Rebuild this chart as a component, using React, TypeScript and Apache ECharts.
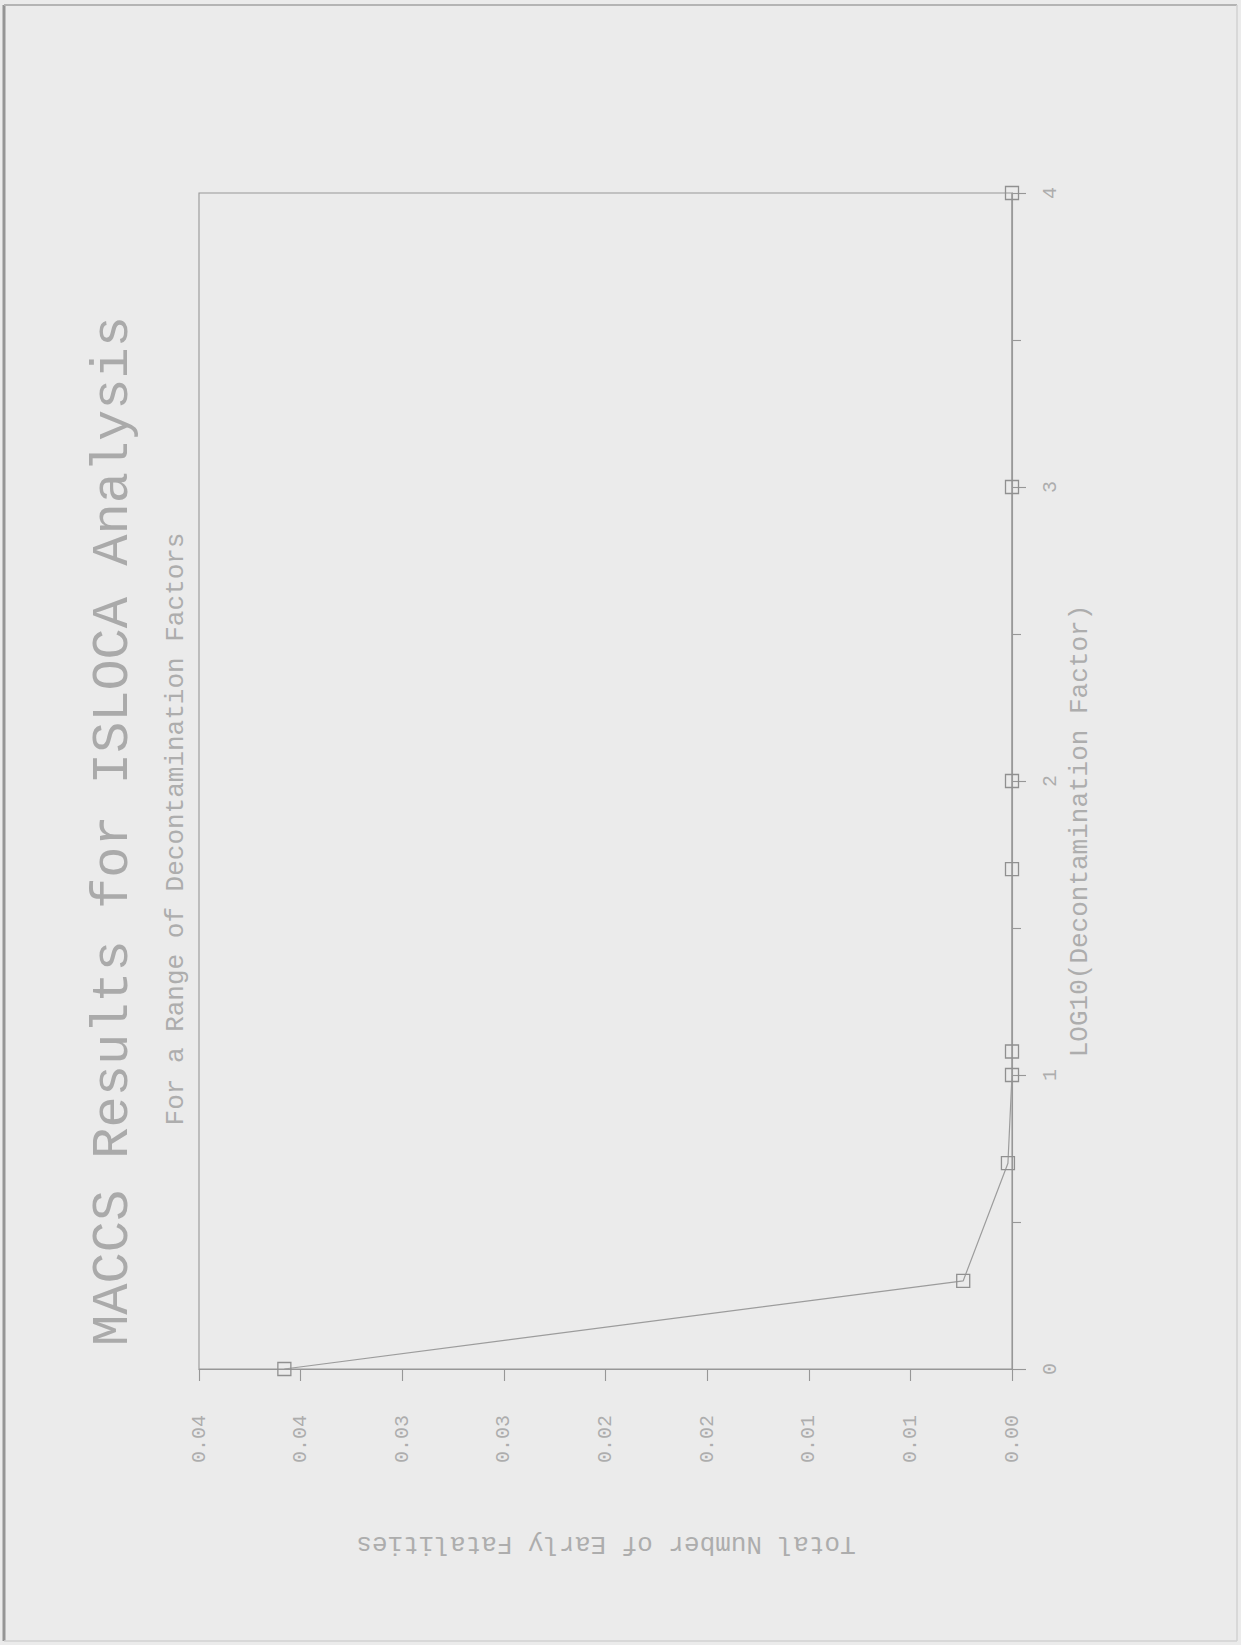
import React, { useEffect, useRef } from "react";
import * as echarts from "echarts";

// Data read from the (rotated) reference chart
const logDecontaminationFactor = [0, 0.3, 0.7, 1.0, 1.08, 1.7, 2, 3, 4];
const earlyFatalities = [0.0358, 0.0024, 0.0002, 0, 0, 0, 0, 0, 0];

const fatalityTickLabels = ["0.00", "0.01", "0.01", "0.02", "0.02", "0.03", "0.03", "0.04", "0.04"];
const logTickLabels = ["0", "1", "2", "3", "4"];

const titleText = "MACCS Results for ISLOCA Analysis";
const subtitleText = "For a Range of Decontamination Factors";
const xName = "LOG10(Decontamination Factor)";
const yName = "Total Number of Early Fatalities";

const FONT = "'Liberation Mono', 'DejaVu Sans Mono', monospace";
const LINE = "#979797";
const TEXT = "#adadad";

export default function App() {
  const ref = useRef<HTMLDivElement>(null);

  useEffect(() => {
    document.body.style.margin = "0";
    if (!ref.current) return;
    const chart = echarts.init(ref.current, undefined, { renderer: "svg" });

    const points = logDecontaminationFactor.map((v, i) => [earlyFatalities[i], v]);

    chart.setOption({
      animation: false,
      backgroundColor: "#ebebeb",
      grid: {
        left: 199,
        top: 193,
        right: 229,
        bottom: 276,
        show: true,
        borderColor: LINE,
        borderWidth: 1.1,
        containLabel: false,
        outerBoundsMode: "none",
      },
      xAxis: {
        type: "value",
        min: 0,
        max: 0.04,
        interval: 0.005,
        inverse: true,
        position: "bottom",
        axisLine: { show: true, lineStyle: { color: LINE, width: 1.1 } },
        axisTick: { show: true, inside: false, length: 12, lineStyle: { color: LINE, width: 1.1 } },
        splitLine: { show: false },
        axisLabel: {
          show: true,
          rotate: 90,
          margin: 46,
          color: TEXT,
          fontFamily: FONT,
          fontSize: 20,
          showMinLabel: true,
          showMaxLabel: true,
          formatter: (v: number) => fatalityTickLabels[Math.round(v / 0.005)] ?? "",
        },
      },
      yAxis: {
        type: "value",
        min: 0,
        max: 4,
        interval: 1,
        position: "right",
        axisLine: { show: true, lineStyle: { color: LINE, width: 1.1 } },
        axisTick: { show: true, inside: false, length: 14, lineStyle: { color: LINE, width: 1.1 } },
        minorTick: { show: true, splitNumber: 2, length: 9, lineStyle: { color: LINE, width: 1.1 } },
        splitLine: { show: false },
        axisLabel: {
          show: true,
          rotate: 90,
          margin: 28,
          color: TEXT,
          fontFamily: FONT,
          fontSize: 20,
          showMinLabel: true,
          showMaxLabel: true,
          formatter: (v: number) => logTickLabels[Math.round(v)] ?? "",
        },
      },
      series: [
        {
          type: "line",
          data: points,
          symbol: "rect",
          symbolSize: 13,
          z: 5,
          lineStyle: { color: "#9c9c9c", width: 1.2 },
          itemStyle: { color: "rgba(0,0,0,0)", borderColor: "#909090", borderWidth: 1.3 },
          emphasis: { disabled: true },
        },
      ],
      graphic: [
        // page border
        { type: "line", shape: { x1: 4, y1: 5, x2: 4, y2: 1641 }, style: { stroke: "#959595", lineWidth: 3 } },
        { type: "line", shape: { x1: 4, y1: 5, x2: 1237, y2: 5 }, style: { stroke: "#b4b4b4", lineWidth: 2 } },
        { type: "line", shape: { x1: 1237, y1: 5, x2: 1237, y2: 1641 }, style: { stroke: "#d2d2d2", lineWidth: 1.5 } },
        { type: "line", shape: { x1: 4, y1: 1641, x2: 1237, y2: 1641 }, style: { stroke: "#d2d2d2", lineWidth: 1.5 } },
        {
          type: "text",
          x: 113,
          y: 831,
          rotation: Math.PI / 2,
          style: {
            text: titleText,
            fill: "#aaaaaa",
            font: `52px ${FONT}`,
            align: "center",
            verticalAlign: "middle",
          },
        },
        {
          type: "text",
          x: 176,
          y: 829,
          rotation: Math.PI / 2,
          style: {
            text: subtitleText,
            fill: TEXT,
            font: `26px ${FONT}`,
            align: "center",
            verticalAlign: "middle",
          },
        },
        {
          type: "text",
          x: 1080,
          y: 831,
          rotation: Math.PI / 2,
          style: {
            text: xName,
            fill: TEXT,
            font: `26px ${FONT}`,
            align: "center",
            verticalAlign: "middle",
          },
        },
        {
          type: "text",
          x: 606,
          y: 1544,
          rotation: Math.PI,
          style: {
            text: yName,
            fill: TEXT,
            font: `26px ${FONT}`,
            align: "center",
            verticalAlign: "middle",
          },
        },
      ],
    });

    return () => {
      chart.dispose();
    };
  }, []);

  return <div ref={ref} style={{ width: 1241, height: 1645 }} />;
}
